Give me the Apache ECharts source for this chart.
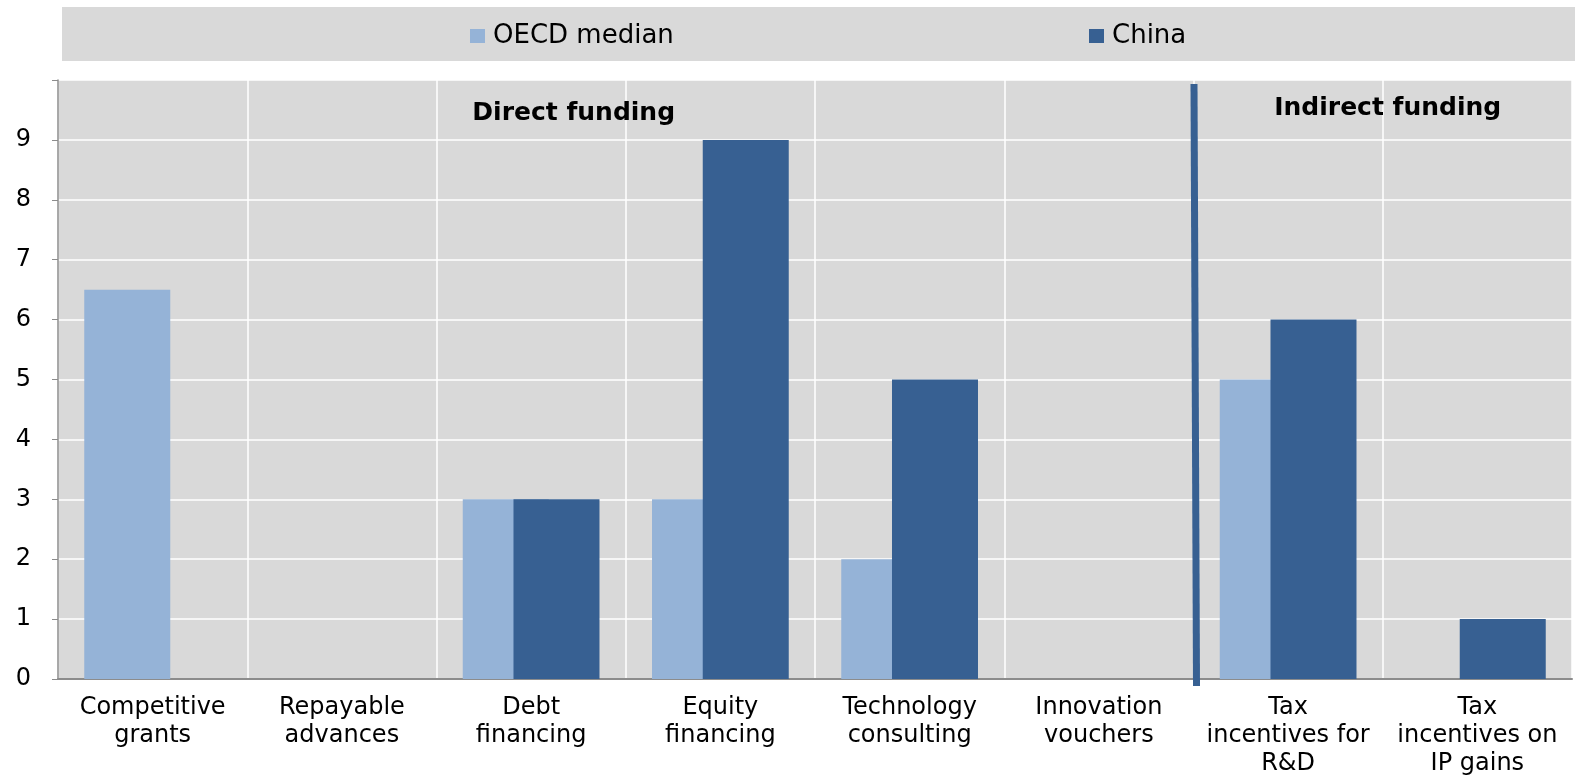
<!DOCTYPE html>
<html>
<head>
<meta charset="utf-8">
<script src="https://cdn.jsdelivr.net/npm/echarts@6/dist/echarts.min.js"></script>
<style>
  html, body { margin: 0; padding: 0; background: #ffffff; }
  #chart { width: 1575px; height: 775px; }
</style>
</head>
<body>
<div id="chart"></div>
<script>
// Public support instruments for business R&D: OECD median vs China
const categories = [
  'Competitive\ngrants',
  'Repayable\nadvances',
  'Debt\nfinancing',
  'Equity\nfinancing',
  'Technology\nconsulting',
  'Innovation\nvouchers',
  'Tax\nincentives for\nR&D',
  'Tax\nincentives on\nIP gains'
];
const oecdMedian = [6.5, 0, 3, 3, 2, 0, 5, 0];
const china = [0, 0, 3, 9, 5, 0, 6, 1];
const yTicks = [0, 1, 2, 3, 4, 5, 6, 7, 8, 9];

const FONT = '"DejaVu Sans", "Liberation Sans", Arial, sans-serif';
const LIGHT = '#95b3d7';
const DARK = '#376092';
const PANEL = '#d9d9d9';

const chart = echarts.init(document.getElementById('chart'), null, { renderer: 'canvas' });

const legendText = { fontFamily: FONT, fontSize: 26, color: '#000', lineHeight: 28,
                     padding: [0, 0, 0, 3] };

const option = {
  animation: false,
  backgroundColor: '#ffffff',
  textStyle: { fontFamily: FONT },
  grid: { left: 58, right: 3, top: 80, bottom: 96, containLabel: false,
          outerBoundsMode: 'none',
          show: true, backgroundColor: PANEL, borderWidth: 0 },
  legend: [
    { left: 465, top: 17, itemWidth: 15, itemHeight: 14, icon: 'rect',
      textStyle: legendText, data: ['OECD median'] },
    { left: 1084, top: 17, itemWidth: 15, itemHeight: 14, icon: 'rect',
      textStyle: legendText, data: ['China'] }
  ],
  xAxis: {
    type: 'category',
    data: categories,
    axisLine: { show: true, lineStyle: { color: '#8c8c8c', width: 2 } },
    axisTick: { show: false },
    splitLine: { show: true, lineStyle: { color: '#ffffff', width: 1.5 } },
    axisLabel: { fontFamily: FONT, fontSize: 24, color: '#000', lineHeight: 28,
                 margin: 15, interval: 0 }
  },
  yAxis: {
    type: 'value',
    min: 0, max: 10, interval: 1,
    axisLine: { show: true, lineStyle: { color: '#8c8c8c', width: 1.5 } },
    axisTick: { show: true, inside: false, length: 6, lineStyle: { color: '#8c8c8c' } },
    splitLine: { show: true, lineStyle: { color: '#ffffff', width: 1.5 } },
    axisLabel: {
      fontFamily: FONT, fontSize: 24, color: '#000', margin: 27,
      formatter: v => (yTicks.indexOf(v) >= 0 ? String(v) : '')
    }
  },
  series: [
    { name: 'OECD median', type: 'bar', data: oecdMedian, barWidth: 86, barGap: '-41%',
      itemStyle: { color: LIGHT } },
    { name: 'China', type: 'bar', data: china, barWidth: 86, barGap: '-41%',
      itemStyle: { color: DARK } }
  ]
};
chart.setOption(option);

// Legend band, section divider and section titles placed from the axis scales
function addOverlays() {
  const px = (i, v) => chart.convertToPixel({ gridIndex: 0 }, [i, v]);
  const catW = px(1, 0)[0] - px(0, 0)[0];
  const left = px(0, 0)[0] - catW / 2;
  const yBase = px(0, 0)[1];
  const yTop = px(0, 10)[1];
  // divider between direct and indirect instruments
  const xDiv = (px(5, 0)[0] + px(6, 0)[0]) / 2;
  const directX = px(2, 0)[0] + 0.225 * catW;
  const indirectX = (px(6, 0)[0] + px(7, 0)[0]) / 2 + 5;

  chart.setOption({
    graphic: [
      { type: 'rect', z: -10, silent: true,
        shape: { x: left + 4, y: 7, width: 1575 - left, height: 54 },
        style: { fill: PANEL } },
      { type: 'polygon', z: 100, silent: true,
        shape: { points: [[xDiv - 3, yTop + 4], [xDiv + 4, yTop + 4],
                          [xDiv + 6.5, yBase + 7], [xDiv - 0.5, yBase + 7]] },
        style: { fill: DARK } },
      { type: 'text', z: 100, silent: true,
        style: { x: directX, y: 113, text: 'Direct funding', align: 'center',
                 verticalAlign: 'middle', font: 'bold 25px ' + FONT, fill: '#000' } },
      { type: 'text', z: 100, silent: true,
        style: { x: indirectX, y: 108, text: 'Indirect funding', align: 'center',
                 verticalAlign: 'middle', font: 'bold 25px ' + FONT, fill: '#000' } }
    ]
  });
}
addOverlays();
</script>
</body>
</html>
